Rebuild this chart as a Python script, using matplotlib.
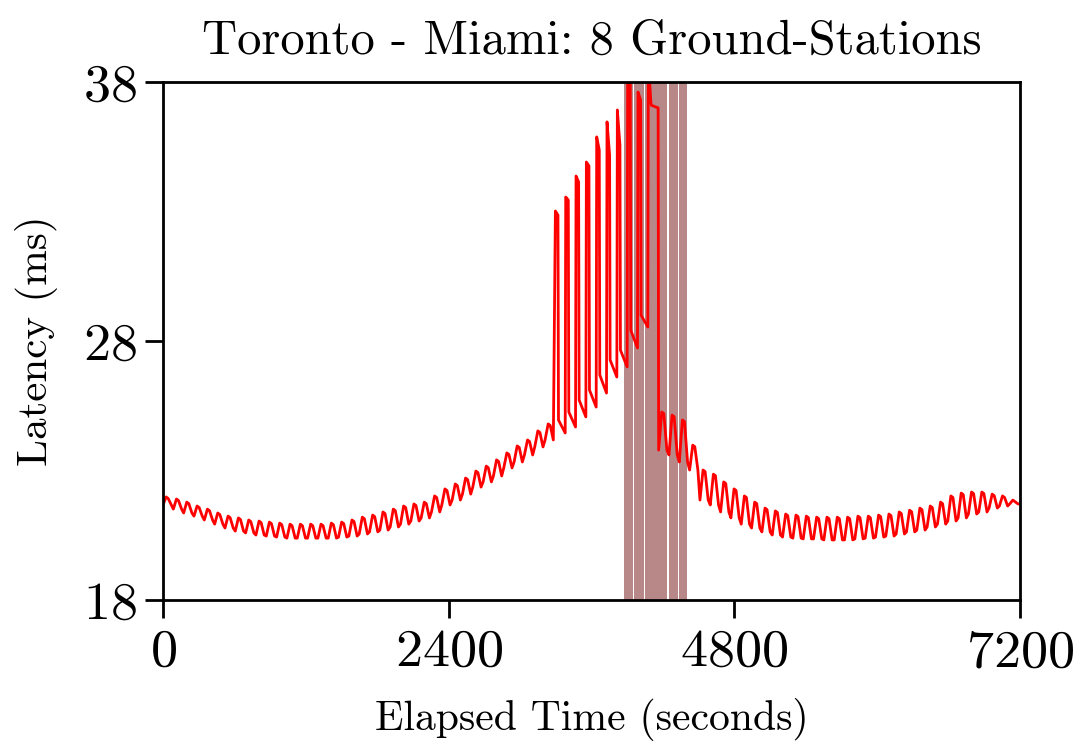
import numpy as np
import matplotlib
matplotlib.use("Agg")
import matplotlib.pyplot as plt

plt.rcParams['font.family'] = ['cmr10', 'DejaVu Serif']
plt.rcParams['mathtext.fontset'] = 'cm'
plt.rcParams['axes.formatter.use_mathtext'] = True

# -------------------------
# Data (one entry per ~87 s cycle)
# -------------------------
n_cycles = 83
period = 7200 / n_cycles

# upper value of each cycle (ms)
peak_ms = [
    21.98, 21.90, 21.78, 21.63, 21.51, 21.36, 21.24, 21.17, 21.09, 21.05,
    21.01, 20.97, 20.93, 20.93, 20.93, 20.93, 20.97, 21.01, 21.09, 21.20,
    21.28, 21.40, 21.51, 21.63, 21.71, 21.78, 22.02, 22.29, 22.48, 22.71,
    22.98, 23.17, 23.41, 23.68, 23.95, 24.18, 24.53, 24.80,
    # cycles with spikes (value right after the drop)
    24.95, 25.26, 25.72, 26.11, 26.69, 27.27, 27.65, 28.42, 29.00, 37.10,
    # after the outage
    25.26, 25.14, 24.95, 23.98, 23.02, 22.86, 22.56, 22.29, 22.02, 21.78,
    21.55, 21.44, 21.32, 21.28, 21.24, 21.20, 21.20, 21.20, 21.20, 21.24,
    21.24, 21.28, 21.32, 21.40, 21.47, 21.55, 21.63, 21.78, 22.02, 22.13,
    22.17, 22.17, 22.09, 22.02, 21.86,
]

# lower value of each cycle (ms)
trough_ms = [
    21.67, 21.51, 21.36, 21.24, 21.09, 20.93, 20.78, 20.66, 20.59, 20.51,
    20.47, 20.43, 20.39, 20.39, 20.39, 20.39, 20.39, 20.43, 20.47, 20.55,
    20.63, 20.70, 20.82, 20.93, 21.05, 21.17, 21.40, 21.67, 21.86, 22.09,
    22.36, 22.56, 22.79, 23.10, 23.33, 23.60, 23.91, 24.18,
    24.45, 24.68, 25.07, 25.45, 25.99, 26.61, 27.00, 27.73, 28.54, 37.00,
    23.79, 23.60, 23.33, 23.02, 21.86, 21.67, 21.40, 21.17, 20.93, 20.78,
    20.63, 20.51, 20.43, 20.39, 20.36, 20.36, 20.32, 20.32, 20.32, 20.36,
    20.39, 20.43, 20.47, 20.55, 20.63, 20.70, 20.82, 20.93, 21.05, 21.17,
    21.32, 21.40, 21.55, 21.63, 21.71,
]

# spike tops and the small hook after them, cycles 38..47
spike_first = 38
spike_top_ms = [33.02, 33.56, 34.37, 34.91, 35.88, 36.46, 36.92, 38.85, 37.61, 38.85]
spike_hook_ms = [32.86, 33.44, 34.14, 34.76, 35.37, 35.18, 35.57, 38.46, 37.31, 37.20]

# shaded outage intervals (seconds)
band_start = [3873, 3953, 4045, 4247, 4331]
band_end = [3945, 4037, 4238, 4323, 4402]

title = 'Toronto - Miami: 8 Ground-Stations'
x_ticks = [0, 2400, 4800, 7200]
y_ticks = [18, 28, 38]

# -------------------------
# Build the line
# -------------------------
t_pts, v_pts = [], []
for k in range(n_cycles):
    t0 = k * period
    j = k - spike_first
    if 0 <= j < len(spike_top_ms):
        t_pts += [t0, t0 + 0.25 * period, t0 + 0.3 * period, t0 + 0.95 * period]
        v_pts += [spike_top_ms[j], spike_hook_ms[j], peak_ms[k], trough_ms[k]]
    else:
        t_pts += [t0, t0 + 0.3 * period, t0 + 0.5 * period, t0 + 0.8 * period]
        v_pts += [trough_ms[k], peak_ms[k], peak_ms[k] - 0.06, trough_ms[k]]
t_pts.append(7200)
v_pts.append(trough_ms[-1])

# -------------------------
# Plot
# -------------------------
fig, ax = plt.subplots(figsize=(10.76, 7.44), dpi=100)
fig.subplots_adjust(left=0.1515, right=0.948, bottom=0.1935, top=0.8898)

for s, e in zip(band_start, band_end):
    ax.axvspan(s, e, color='#b88787', lw=0, zorder=1)

ax.plot(t_pts, v_pts, color='red', lw=2.0, zorder=2)

ax.set_xlim(0, 7200)
ax.set_ylim(18, 38)
ax.set_xticks(x_ticks)
ax.set_yticks(y_ticks)
ax.tick_params(axis='both', direction='out', length=13, width=2,
               labelsize=39, pad=6)
ax.tick_params(axis='x', pad=8)
for sp in ax.spines.values():
    sp.set_linewidth(2)

ax.set_title(title, fontsize=35, pad=20)
ax.set_xlabel('Elapsed Time (seconds)', fontsize=30, labelpad=16)
ax.set_ylabel('Latency (ms)', fontsize=31)
ax.yaxis.set_label_coords(-0.123, 0.5)

fig.savefig('out.png', dpi=100)
